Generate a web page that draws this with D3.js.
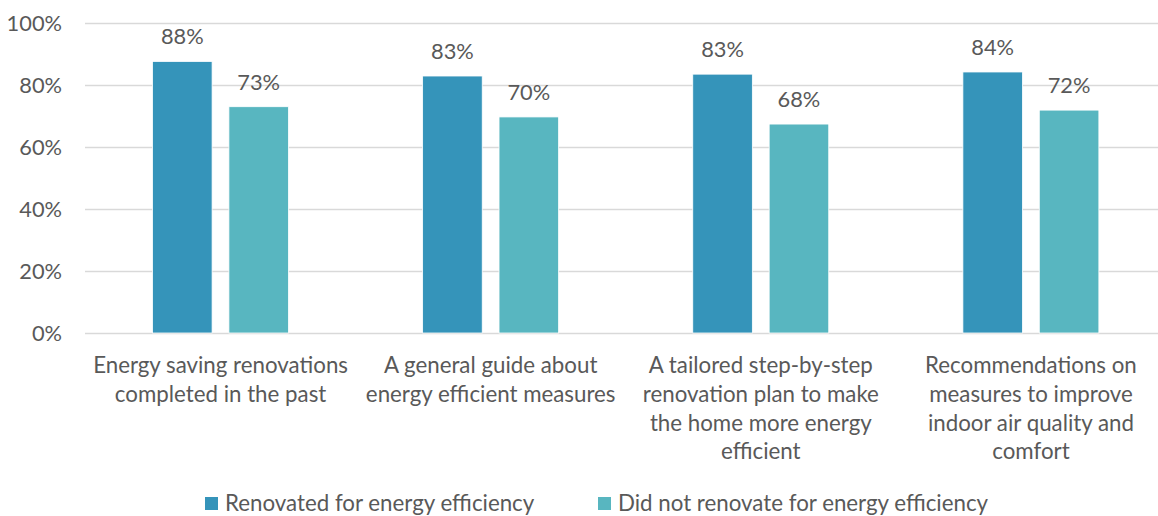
<!DOCTYPE html>
<html>
<head>
<meta charset="utf-8">
<script src="https://cdn.jsdelivr.net/npm/d3@7"></script>
<style>
  body { margin: 0; background: #fff; }
  text { font-family: Lato, "Open Sans", sans-serif; fill: #595959; }
</style>
</head>
<body>
<script>
const categories = [
  ["Energy saving renovations", "completed in the past"],
  ["A general guide about", "energy efficient measures"],
  ["A tailored step-by-step", "renovation plan to make", "the home more energy", "efficient"],
  ["Recommendations on", "measures to improve", "indoor air quality and", "comfort"]
];
const seriesNames = ["Renovated for energy efficiency", "Did not renovate for energy efficiency"];
const renovated = [87.6, 82.9, 83.5, 84.2];
const notRenovated = [73.0, 69.7, 67.4, 71.9];
const renovatedLabels = ["88%", "83%", "83%", "84%"];
const notRenovatedLabels = ["73%", "70%", "68%", "72%"];
const yTicks = [0, 20, 40, 60, 80, 100];
const colors = ["#3594ba", "#58b6c0"];

const width = 1158, height = 516;
const svg = d3.select("body").append("svg")
  .attr("width", width).attr("height", height);

const x0 = d3.scaleBand().domain(d3.range(categories.length)).range([85.5, 1166]);
const x1 = d3.scaleBand().domain([0, 1]).range([67, 203]).paddingInner(0.22);
const y = d3.scaleLinear().domain([0, 100]).range([333, 23]);

// gridlines
svg.append("g").selectAll("line")
  .data(yTicks)
  .enter().append("line")
  .attr("x1", 85).attr("x2", width)
  .attr("y1", d => Math.round(y(d)) + 0.5).attr("y2", d => Math.round(y(d)) + 0.5)
  .attr("stroke", "#d9d9d9").attr("stroke-width", 1.5);

// y tick labels
svg.append("g").selectAll("text")
  .data(yTicks)
  .enter().append("text")
  .attr("x", 62).attr("y", d => y(d))
  .attr("dy", "0.35em")
  .attr("text-anchor", "end")
  .style("font-size", "21.8px")
  .text(d => d + "%");

const rows = categories.map((c, i) => [
  { i, s: 0, v: renovated[i], label: renovatedLabels[i] },
  { i, s: 1, v: notRenovated[i], label: notRenovatedLabels[i] }
]);

const groups = svg.selectAll("g.grp")
  .data(rows)
  .enter().append("g")
  .attr("class", "grp")
  .attr("transform", (d, i) => `translate(${x0(i)},0)`);

groups.selectAll("rect")
  .data(d => d)
  .enter().append("rect")
  .attr("x", d => x1(d.s))
  .attr("y", d => y(d.v))
  .attr("width", x1.bandwidth())
  .attr("height", d => y(0) - y(d.v))
  .attr("fill", d => colors[d.s])
  .attr("stroke", "#fff").attr("stroke-width", 0.8);

groups.selectAll("text.val")
  .data(d => d)
  .enter().append("text")
  .attr("class", "val")
  .attr("x", d => x1(d.s) + x1.bandwidth() / 2)
  .attr("y", d => y(d.v) - 17)
  .attr("text-anchor", "middle")
  .style("font-size", "21.8px")
  .text(d => d.label);

// category labels
svg.append("g").selectAll("text")
  .data(categories)
  .enter().append("text")
  .attr("text-anchor", "middle")
  .attr("transform", (d, i) => `translate(${x0(i) + x0.bandwidth() / 2},373)`)
  .style("font-size", "22.3px")
  .selectAll("tspan")
  .data(d => d)
  .enter().append("tspan")
  .attr("x", 0)
  .attr("y", (d, j) => j * 28.8)
  .text(d => d);

// legend
const legendX = [205, 598];
const legend = svg.append("g");
seriesNames.forEach((name, i) => {
  legend.append("rect")
    .attr("x", legendX[i]).attr("y", 497).attr("width", 13).attr("height", 13)
    .attr("fill", colors[i]);
  legend.append("text")
    .attr("x", legendX[i] + 20).attr("y", 511)
    .style("font-size", "22.3px")
    .text(name);
});
</script>
</body>
</html>
